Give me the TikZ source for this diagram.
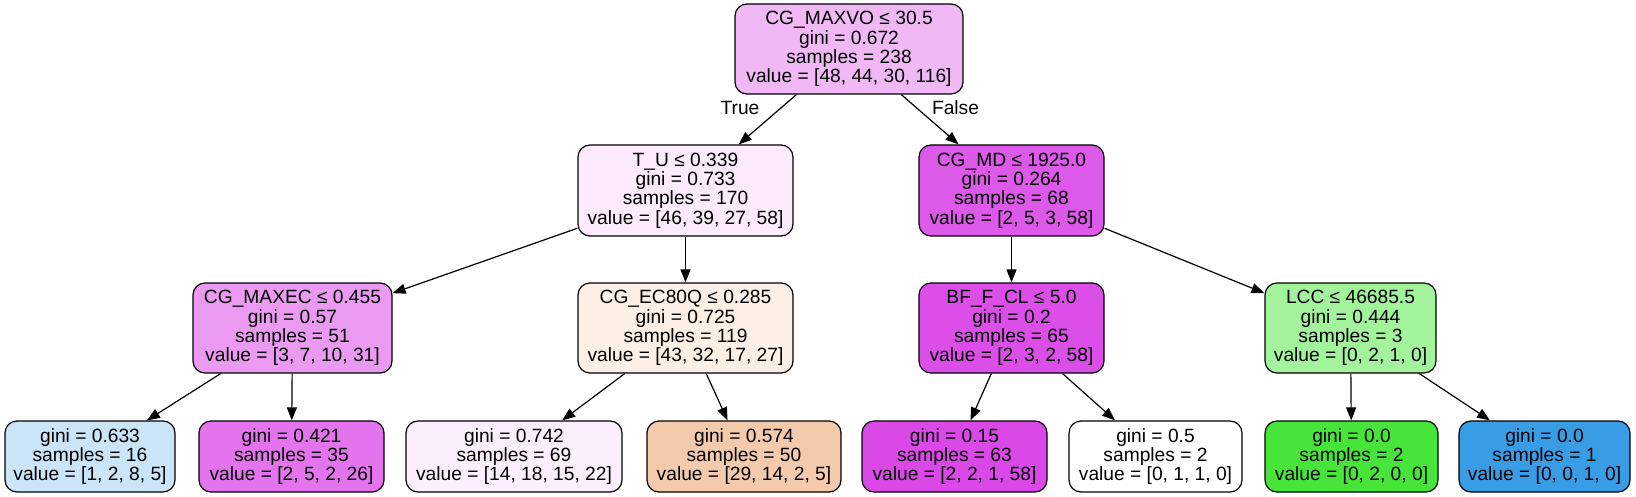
\documentclass[tikz,border=0pt]{standalone}
\usepackage{fontspec}
\setmainfont{Liberation Sans}
\usetikzlibrary{arrows.meta}
\definecolor{cO}{HTML}{E58139}
\definecolor{cG}{HTML}{47E539}
\definecolor{cB}{HTML}{399DE5}
\definecolor{cM}{HTML}{D739E5}
\begin{document}
\begin{tikzpicture}[x=1pt,y=-1pt,
  tn/.style={draw=black, line width=1.2pt, rounded corners=12pt, inner sep=0pt, align=center,
    font=\fontsize{19.2}{19.3}\selectfont},
  edge/.style={line width=1.2pt, -{Triangle[length=13pt,width=10pt]}},
  elabel/.style={font=\fontsize{19.2}{19.3}\selectfont, inner sep=0pt}]
\useasboundingbox (0,0) rectangle (1636,497);
% level 1
\node[tn, fill=cM!36!white, minimum width=228pt, minimum height=90pt] (root) at (849,49)
  {CG\_MAXVO ≤ 30.5\\gini = 0.672\\samples = 238\\value = [48, 44, 30, 116]};
% level 2
\node[tn, fill=cM!10!white, minimum width=215pt, minimum height=91pt] (tu) at (685.5,190.5)
  {T\_U ≤ 0.339\\gini = 0.733\\samples = 170\\value = [46, 39, 27, 58]};
\node[tn, fill=cM!84!white, minimum width=185pt, minimum height=91pt] (md) at (1011.5,190.5)
  {CG\_MD ≤ 1925.0\\gini = 0.264\\samples = 68\\value = [2, 5, 3, 58]};
% level 3
\node[tn, fill=cM!51!white, minimum width=199pt, minimum height=90pt] (maxec) at (292.5,328)
  {CG\_MAXEC ≤ 0.455\\gini = 0.57\\samples = 51\\value = [3, 7, 10, 31]};
\node[tn, fill=cO!13!white, minimum width=215pt, minimum height=90pt] (ec80) at (685.5,328)
  {CG\_EC80Q ≤ 0.285\\gini = 0.725\\samples = 119\\value = [43, 32, 17, 27]};
\node[tn, fill=cM!89!white, minimum width=185pt, minimum height=90pt] (bf) at (1011.5,328)
  {BF\_F\_CL ≤ 5.0\\gini = 0.2\\samples = 65\\value = [2, 3, 2, 58]};
\node[tn, fill=cG!50!white, minimum width=171pt, minimum height=90pt] (lcc) at (1350.5,328)
  {LCC ≤ 46685.5\\gini = 0.444\\samples = 3\\value = [0, 2, 1, 0]};
% level 4
\node[tn, fill=cB!27!white, minimum width=170pt, minimum height=71pt] (l1) at (90,456.5)
  {gini = 0.633\\samples = 16\\value = [1, 2, 8, 5]};
\node[tn, fill=cM!70!white, minimum width=185pt, minimum height=71pt] (l2) at (291.5,456.5)
  {gini = 0.421\\samples = 35\\value = [2, 5, 2, 26]};
\node[tn, fill=cM!8!white, minimum width=216pt, minimum height=71pt] (l3) at (514,456.5)
  {gini = 0.742\\samples = 69\\value = [14, 18, 15, 22]};
\node[tn, fill=cO!42!white, minimum width=194pt, minimum height=71pt] (l4) at (744,456.5)
  {gini = 0.574\\samples = 50\\value = [29, 14, 2, 5]};
\node[tn, fill=cM!92!white, minimum width=185pt, minimum height=71pt] (l5) at (954.5,456.5)
  {gini = 0.15\\samples = 63\\value = [2, 2, 1, 58]};
\node[tn, fill=white, minimum width=173pt, minimum height=71pt] (l6) at (1155.5,456.5)
  {gini = 0.5\\samples = 2\\value = [0, 1, 1, 0]};
\node[tn, fill=cG, minimum width=173pt, minimum height=71pt] (l7) at (1351.5,456.5)
  {gini = 0.0\\samples = 2\\value = [0, 2, 0, 0]};
\node[tn, fill=cB, minimum width=171pt, minimum height=71pt] (l8) at (1544.5,456.5)
  {gini = 0.0\\samples = 1\\value = [0, 0, 1, 0]};
% edges
\draw[edge] (root) -- (tu);
\draw[edge] (root) -- (md);
\draw[edge] (tu) -- (maxec);
\draw[edge] (tu) -- (ec80);
\draw[edge] (md) -- (bf);
\draw[edge] (md) -- (lcc);
\draw[edge] (maxec) -- (l1);
\draw[edge] (maxec) -- (l2);
\draw[edge] (ec80) -- (l3);
\draw[edge] (ec80) -- (l4);
\draw[edge] (bf) -- (l5);
\draw[edge] (bf) -- (l6);
\draw[edge] (lcc) -- (l7);
\draw[edge] (lcc) -- (l8);
% edge labels
\node[elabel] (ltrue) at (740,108) {True};
\node[elabel] (lfalse) at (955.5,108) {False};
\end{tikzpicture}
\end{document}
